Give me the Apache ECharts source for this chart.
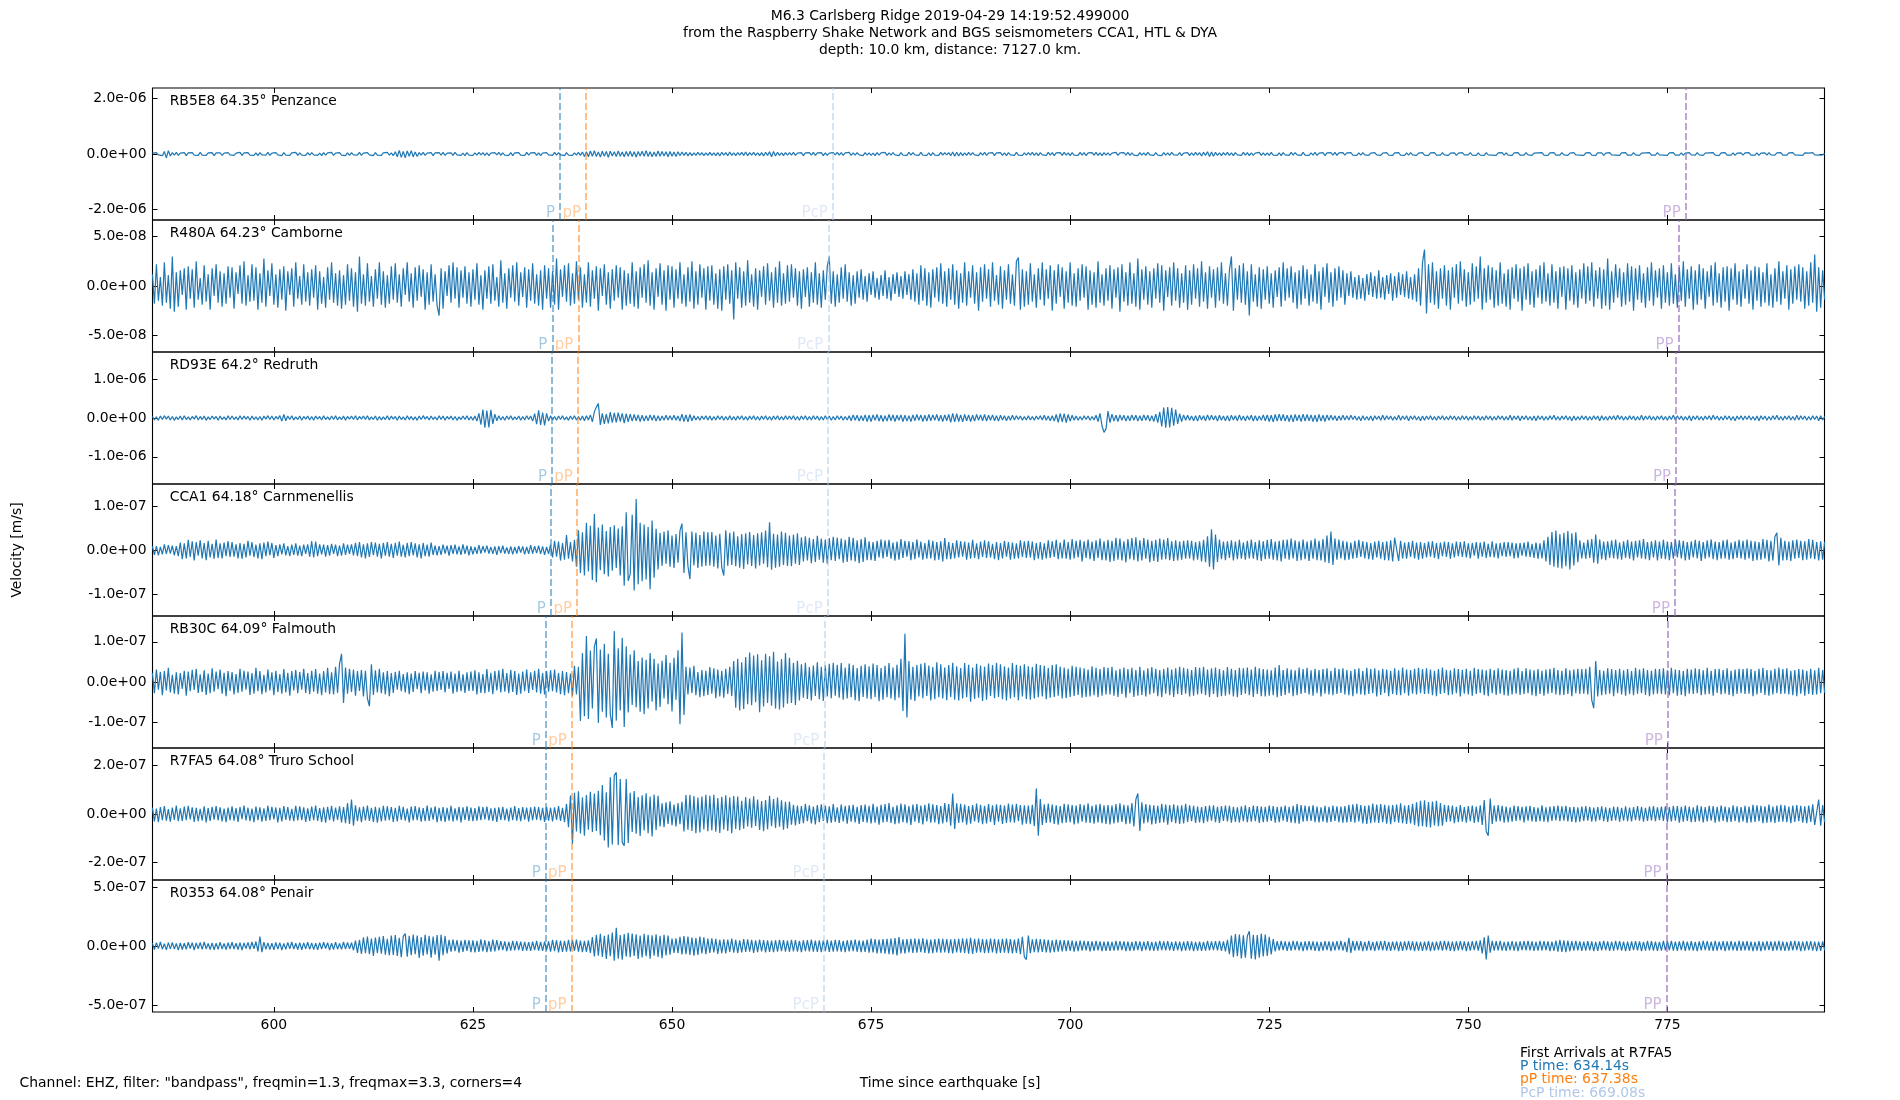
<!DOCTYPE html>
<html><head><meta charset="utf-8">
<script src="https://cdn.jsdelivr.net/npm/echarts@6/dist/echarts.min.js"></script>
<style>html,body{margin:0;padding:0;background:#fff}#c{width:1900px;height:1100px}</style>
</head><body><div id="c"></div>
<script>
// ---------------- data ----------------
const T0 = 584.75, DT = 0.25;          // first sample time and sample step [s]
const X_MIN = 584.76, X_MAX = 794.73;  // x range [s]
const xTicks = [600, 625, 650, 675, 700, 725, 750, 775];
const stations = ['RB5E8 64.35° Penzance', 'R480A 64.23° Camborne', 'RD93E 64.2° Redruth', 'CCA1 64.18° Carnmenellis', 'RB30C 64.09° Falmouth', 'R7FA5 64.08° Truro School', 'R0353 64.08° Penair'];
const units = [1e-8, 1e-9, 1e-8, 1e-9, 1e-9, 1e-9, 1e-9];   // unit of the trace values [m/s]
const yLimits = [2.37e-6, 6.7e-8, 1.7e-6, 1.5e-7, 1.64e-7, 2.73e-7, 5.6e-7];
const yTicks = [[-2e-6, 0, 2e-6], [-5e-8, 0, 5e-8], [-1e-6, 0, 1e-6], [-1e-7, 0, 1e-7], [-1e-7, 0, 1e-7], [-2e-7, 0, 2e-7], [-5e-7, 0, 5e-7]];
const pTimes   = [635.94, 634.97, 634.92, 634.77, 634.16, 634.14, 634.14];
const pPTimes  = [639.21, 638.24, 638.18, 638.08, 637.41, 637.38, 637.38];
const pcpTimes = [670.19, 669.64, 669.60, 669.55, 669.12, 669.08, 669.08];
const ppTimes  = [777.30, 776.40, 776.10, 775.95, 775.05, 774.90, 774.90];
const arrivalNames = ['P', 'pP', 'PcP', 'PP'];
const arrivalColors = ['rgba(31,119,180,0.5)', 'rgba(255,127,14,0.5)', 'rgba(174,199,232,0.5)', 'rgba(148,103,189,0.6)'];
const titleLines = ['M6.3 Carlsberg Ridge 2019-04-29 14:19:52.499000', 'from the Raspberry Shake Network and BGS seismometers CCA1, HTL & DYA', 'depth: 10.0 km, distance: 7127.0 km.'];
const firstArrivalLines = ['First Arrivals at R7FA5', 'P time: 634.14s', 'pP time: 637.38s', 'PcP time: 669.08s'];
const firstArrivalColors = ['#000000', '#1f77b4', '#ff7f0e', '#aec7e8'];

const traceRB5E8 = [
3,-4,5,-3,4,-6,9,-14,12,-7,5,-4,6,-5,3,-4,5,-6,4,-3,5,-4,3,-5,6,-4,3,-5,4,-3,5,-6,4,-3,4,-5,3,-4,5,-3,
4,-5,3,-4,6,-5,4,-3,5,-4,3,-5,4,-6,5,-3,4,-4,6,-5,3,-4,5,-3,4,-6,5,-4,3,-5,4,-3,6,-5,4,-4,3,-5,5,-4,
5,-3,4,-5,3,-6,5,-4,4,-3,6,-5,3,-4,5,-4,3,-6,4,-5,5,-3,4,-4,6,-5,3,-4,5,-3,4,-6,5,-4,3,-5,4,-3,6,-4,
4,-6,8,-10,13,-12,9,-14,11,-8,12,-10,7,-9,5,-4,6,-5,3,-4,5,-6,4,-3,5,-4,6,-5,3,-4,4,-5,6,-3,4,-5,3,-6,5,-4,
3,-5,4,-4,6,-3,5,-5,4,-6,3,-4,5,-3,6,-5,4,-4,3,-5,5,-6,4,-3,5,-4,3,-5,6,-4,4,-3,5,-5,4,-6,3,-4,5,-3,
4,-5,6,-4,5,-3,4,-6,5,-4,3,-5,4,-4,6,-5,7,-9,8,-10,11,-8,12,-9,7,-11,10,-8,9,-12,10,-7,8,-9,11,-8,7,-10,9,-8,
10,-9,8,-11,9,-7,10,-8,12,-9,8,-10,7,-9,11,-8,9,-7,8,-10,9,-8,7,-9,8,-6,7,-5,6,-7,5,-6,4,-5,6,-4,5,-6,4,-5,
6,-5,4,-6,5,-7,6,-4,5,-6,7,-5,4,-6,5,-4,6,-5,7,-6,5,-4,6,-5,4,-6,5,-7,6,-5,8,-10,9,-7,6,-5,4,-6,5,-4,
5,-4,6,-5,3,-4,5,-6,4,-3,5,-4,6,-5,4,-3,5,-6,4,-5,3,-4,5,-3,6,-4,5,-5,4,-3,6,-5,4,-4,5,-3,4,-6,5,-4,
4,-5,3,-6,5,-4,4,-3,6,-5,4,-4,5,-3,4,-6,5,-4,3,-5,6,-4,5,-3,4,-5,6,-4,3,-5,4,-6,5,-4,3,-5,6,-4,5,-3,
5,-6,7,-8,6,-7,5,-6,4,-5,6,-4,5,-3,4,-6,5,-4,6,-5,3,-4,5,-6,4,-3,5,-5,4,-6,5,-3,4,-5,6,-4,3,-5,4,-4,
5,-4,6,-5,4,-6,5,-3,4,-5,6,-4,5,-6,4,-3,5,-5,6,-4,4,-6,5,-4,3,-5,6,-4,5,-6,4,-3,5,-4,6,-5,4,-6,5,-4,
4,-5,3,-4,6,-5,4,-3,5,-4,6,-5,4,-4,3,-6,5,-4,4,-5,6,-3,4,-5,5,-4,3,-6,5,-4,4,-5,6,-3,4,-4,5,-6,3,-4,
5,-6,4,-5,6,-4,5,-7,6,-5,8,-9,7,-8,6,-5,4,-6,5,-4,6,-5,4,-6,5,-3,4,-5,6,-4,5,-6,4,-5,3,-4,6,-5,4,-5,
4,-5,6,-4,3,-5,4,-6,5,-3,4,-5,6,-4,5,-3,4,-5,6,-4,3,-5,4,-4,6,-5,3,-4,5,-6,4,-3,5,-4,6,-5,4,-3,5,-4,
4,-3,5,-4,3,-5,4,-4,5,-3,4,-5,3,-4,5,-3,4,-5,3,-4,5,-4,3,-5,4,-3,5,-4,3,-5,4,-4,5,-3,4,-5,3,-4,5,-4,
3,-5,4,-3,5,-4,3,-4,5,-3,4,-5,3,-4,4,-5,3,-4,5,-3,4,-3,5,-4,3,-5,4,-4,3,-5,5,-3,4,-4,3,-5,4,-3,5,-4,
4,-4,3,-5,4,-3,5,-4,3,-4,5,-3,4,-5,3,-4,4,-3,5,-4,3,-5,4,-3,5,-4,3,-4,5,-3,4,-5,3,-4,5,-3,4,-4,3,-5,
4,-3,5,-4,3,-5,4,-3,4,-5,3,-4,5,-3,4,-4,3,-5,4,-3,5,-4,3,-4,5,-3,4,-5,3,-4,4,-3,5,-4,3,-4,5,-3,4,-4,
3,-5,4,-3,5,-4,3,-4,4,-5,3,-4,5,-3,4,-4,5,-3,4,-5,3,-4,4,-3,5,-4,3,-5,4,-3,5,-4,3,-4,4,-5,3,-3,4,-4,
4,-3,5,-4,3,-4,4,-5,3,-3,4,-4,5,-3,3,-4,4,-3,5,-4,3,-4,4,-3,5,-3,4,-4,3,-5,4,-3,3,-4,5,-3,4,-4,3,-3,
2];

const traceR480A = [
12,-18,22,-15,9,-20,24,-17,11,-23,30,-26,14,-21,16,-9,18,-24,20,-13,17,-22,25,-14,8,-19,21,-16,12,-24,18,-10,22,-17,15,-21,13,-18,20,-12,
19,-23,14,-8,21,-18,25,-20,11,-16,22,-15,19,-24,13,-17,28,-21,16,-10,23,-19,12,-22,17,-14,20,-25,15,-9,18,-21,24,-13,10,-19,22,-16,14,-20,
17,-12,21,-24,15,-18,9,-22,19,-14,24,-17,13,-20,16,-23,11,-19,22,-15,18,-21,14,-26,30,-18,12,-20,23,-16,10,-21,17,-13,24,-19,15,-22,11,-18,
20,-14,23,-17,12,-21,18,-9,24,-16,13,-22,19,-15,21,-11,17,-24,14,-19,22,-16,12,-20,-30,18,-23,15,-10,21,-17,24,-13,19,-22,16,-12,20,-18,14,
-21,17,-14,23,-19,11,-24,16,-13,20,-18,22,-15,9,-21,26,-17,13,-23,18,-12,21,-16,24,-20,14,-11,19,-22,17,-15,23,-18,12,-20,16,-24,21,-13,18,
-22,15,-19,28,-24,17,-11,21,-16,23,-20,13,-18,25,-14,19,-22,12,-17,24,-21,16,-13,20,-25,18,-10,22,-19,14,-23,17,-15,21,-12,19,-24,16,-20,13,
-18,24,-21,15,-23,19,-12,22,-17,26,-20,14,-24,18,-11,23,-19,16,-25,21,-14,20,-22,17,-13,24,-18,12,-21,19,-16,25,-23,15,-19,22,-12,18,-24,20,
-15,21,-19,13,-23,17,-25,20,-14,22,-18,16,-34,24,-13,19,-22,15,-20,26,-17,12,-21,18,-24,16,-11,20,-19,23,-15,14,-22,19,-17,25,-20,13,-18,21,
-16,22,-12,18,-20,15,-23,17,-11,19,-21,14,-17,24,-19,13,-22,16,-14,20,30,-18,15,-21,12,-17,19,-13,22,-16,14,-20,11,-18,15,-12,17,-14,10,-16,
13,-9,15,-12,8,-14,11,-10,16,-13,9,-15,12,-8,14,-11,10,-13,15,-9,12,-14,17,-16,13,-19,21,-15,18,-20,14,-22,17,-12,19,-16,23,-18,15,-21,
18,-14,22,-19,16,-23,13,-17,24,-20,15,-12,21,-18,14,-25,19,-16,22,-13,17,-21,24,-15,11,-19,20,-23,16,-14,22,-18,12,-20,25,29,-24,17,-21,15,
-19,23,-16,12,-22,18,-14,24,-20,17,-13,21,-25,16,-18,22,-11,19,-23,15,-17,24,-20,13,-21,18,-15,22,-12,20,-24,16,-19,14,-22,25,-17,12,-20,18,
-15,21,-23,17,-12,19,-26,22,-16,14,-20,24,-18,13,-21,28,-24,17,-14,20,-19,15,-22,18,-13,23,-17,21,-25,16,-11,19,-20,24,-15,18,-22,13,-17,21,
-24,16,-19,22,-13,18,-21,25,-16,14,-23,20,-12,17,-22,19,-15,24,-18,13,-20,16,30,-25,18,-14,21,-17,23,-19,15,-30,22,-16,12,-21,19,-23,17,-14,
20,-18,13,-22,16,-11,19,-21,24,-15,18,-12,20,-17,14,-23,16,-19,21,-13,17,-20,12,-16,22,-18,15,-24,19,-11,23,-17,14,-21,18,-15,20,-12,16,-19,
13,-10,15,-12,9,-14,11,-13,8,-15,12,-9,14,-11,10,-13,16,-12,9,-14,11,-8,13,-15,10,-12,14,-9,12,-11,15,-13,9,-14,12,-16,18,-20,24,37,
-28,22,-17,24,-19,15,-23,18,-13,21,-20,16,-24,19,-12,22,-18,25,-15,17,-21,14,-19,23,-16,20,-13,30,-24,18,-17,21,-14,19,-22,16,-20,24,-18,13,
-21,17,-24,19,-13,22,-16,18,-25,20,-14,23,-19,15,-22,17,-12,21,-18,24,-16,13,-20,22,-17,15,-23,19,-11,20,-24,18,-15,21,-19,14,-22,17,-13,23,
-18,20,-15,24,-21,16,-13,19,-23,17,-20,28,-24,15,-17,22,-12,18,-21,14,-19,23,-16,20,-25,18,-14,21,-17,13,-22,19,-15,24,-20,16,-12,18,-23,21,
-17,14,-20,23,-18,12,-22,19,-15,25,-21,17,-13,20,-24,16,-19,22,-14,18,-23,15,-11,21,-20,24,-17,13,-22,19,-16,20,-25,18,-14,23,-19,15,-21,17,
-13,22,-18,16,-24,20,-15,19,-21,14,-17,23,-20,12,-22,18,-16,25,-19,15,-13,21,-24,17,-18,20,-14,22,-16,19,-23,15,-20,24,-17,32,-26,19,-22,16,
-14];

const traceRD93E = [
4,-5,3,-6,5,-4,6,-3,5,-5,4,-6,3,-4,5,-5,6,-4,3,-5,4,-3,6,-5,4,-4,5,-6,3,-4,5,-3,4,-6,5,-4,3,-5,6,-4,
5,-4,3,-5,6,-4,5,-3,4,-6,5,-4,3,-5,4,-6,5,-3,6,-4,5,-5,4,-3,6,-8,9,-7,5,-4,6,-5,3,-4,5,-6,4,-3,5,-5,
4,-6,5,-3,4,-5,6,-4,3,-5,5,-4,6,-5,3,-4,5,-6,4,-3,5,-4,6,-5,4,-3,5,-4,6,-5,3,-4,5,-6,4,-5,3,-4,6,-5,
5,-3,4,-6,5,-4,3,-5,6,-4,4,-5,3,-6,5,-4,6,-3,4,-5,5,-4,3,-5,6,-4,5,-6,4,-3,5,-5,4,-6,3,-4,5,-4,6,-5,
4,-6,5,-8,12,-17,22,-25,19,-24,21,-15,10,-7,6,-5,4,-6,5,-4,6,-5,3,-4,5,-6,4,-5,6,-4,5,-8,11,-16,20,-18,14,-19,12,-8,
6,-5,4,-6,5,-4,6,-5,3,-6,5,-4,6,-5,4,-6,5,-7,6,-5,8,-10,16,28,37,-18,12,-15,10,-14,15,-12,13,-11,14,-9,12,-13,11,-10,
10,-8,9,-7,8,-9,7,-8,6,-7,8,-6,7,-8,6,-7,5,-6,7,-5,6,-5,7,-6,5,-8,10,-9,8,-10,9,-7,6,-5,4,-6,5,-4,6,-5,
5,-6,4,-5,6,-4,5,-6,4,-5,6,-5,4,-6,5,-4,6,-5,4,-6,5,-4,6,-5,4,-6,5,-4,6,-5,4,-6,5,-4,6,-5,4,-5,6,-4,
5,-4,6,-5,4,-6,5,-4,6,-5,4,-5,6,-4,5,-6,4,-5,6,-4,5,-6,4,-5,6,-4,5,-6,4,-5,6,-7,8,-6,7,-8,6,-7,8,-9,
7,-9,8,-6,9,-8,7,-9,6,-8,9,-7,8,-9,7,-6,8,-9,7,-8,6,-9,8,-7,9,-6,8,-9,7,-8,9,-7,8,-6,9,-8,7,-9,8,-7,
9,-11,12,-10,11,-9,8,-10,9,-7,8,-9,7,-8,9,-6,8,-7,9,-8,7,-6,8,-7,6,-8,7,-5,6,-7,5,-6,7,-5,6,-4,5,-6,4,-5,
6,-5,4,-6,5,-4,6,-5,7,-6,5,-7,6,-8,9,-11,12,-10,11,-12,9,-8,7,-6,5,-6,4,-5,6,-4,5,-6,4,-5,7,-9,12,-20,-37,-28,
18,-12,10,-8,7,-9,8,-6,7,-8,6,-7,8,-6,7,-8,6,-7,8,-6,7,-8,6,-9,10,-12,16,-22,27,-25,28,-24,26,-20,22,-15,11,-9,8,-6,
7,-6,5,-7,6,-8,7,-5,6,-7,8,-6,7,-5,6,-8,7,-6,5,-7,6,-8,7,-5,6,-7,8,-6,5,-7,6,-5,7,-8,6,-7,5,-6,8,-7,
8,-9,7,-10,9,-8,10,-7,9,-8,7,-9,8,-10,9,-7,8,-9,10,-8,9,-7,8,-9,7,-10,9,-8,7,-9,8,-6,7,-5,6,-7,5,-6,7,-5,
6,-5,7,-4,5,-6,4,-7,6,-5,4,-6,5,-7,6,-4,5,-6,7,-5,6,-4,5,-6,4,-5,7,-6,5,-4,6,-7,5,-4,6,-5,4,-7,5,-6,
5,-4,6,-5,4,-6,5,-4,6,-5,4,-5,6,-4,5,-6,4,-5,6,-4,5,-6,4,-5,6,-4,5,-6,4,-5,6,-4,5,-6,4,-5,6,-4,5,-6,
4,-5,7,-6,5,-4,6,-7,5,-4,6,-5,4,-6,5,-7,6,-4,5,-6,4,-5,6,-4,7,-5,4,-6,5,-4,6,-5,4,-7,5,-6,4,-5,6,-4,
5,-6,4,-5,6,-4,5,-7,6,-5,4,-6,5,-4,6,-5,7,-4,5,-6,4,-5,6,-4,5,-6,4,-5,7,-6,5,-4,6,-5,4,-6,5,-4,6,-5,
4,-6,5,-4,7,-5,6,-4,5,-6,4,-5,6,-7,5,-4,6,-5,4,-6,5,-4,6,-5,7,-4,5,-6,4,-5,6,-4,5,-6,4,-7,5,-4,6,-5,
5,-4,6,-5,4,-6,5,-7,6,-4,5,-6,4,-5,6,-4,7,-5,4,-6,5,-4,6,-5,4,-6,7,-5,6,-4,5,-6,4,-5,6,-4,5,-7,6,-5,
4];

const traceCCA1 = [
8,-11,9,-12,7,-10,13,-9,11,-8,10,-12,9,-14,17,-21,15,-19,23,-16,20,-24,18,-13,22,-19,16,-23,21,-17,14,-20,24,-18,15,-19,17,-14,20,-16,
18,-15,13,-19,16,-20,14,-17,21,-13,18,-16,12,-19,15,-21,17,-14,19,-12,16,-18,11,-14,13,-10,15,-12,9,-14,12,-11,15,-13,10,-14,12,-9,13,-15,
20,-17,19,-14,13,-10,12,-15,11,-13,14,-9,12,-14,10,-13,15,-11,12,-9,13,-12,16,-14,18,-17,13,-19,15,-16,18,-12,17,-15,14,-19,16,-13,18,-15,
14,-18,16,-13,19,-15,12,-17,16,-14,18,-12,15,-17,13,-19,16,-14,12,-15,17,-11,10,-12,9,-11,12,-8,10,-13,11,-9,12,-10,8,-11,13,-9,10,-12,
8,-10,7,-9,11,-8,9,-6,10,-8,7,-9,8,-11,9,-7,10,-8,6,-9,8,-10,7,-8,9,-6,8,-10,7,-9,11,-8,9,-7,10,-9,8,-11,7,-9,
12,-17,21,-15,19,-24,16,-22,34,-20,18,-26,23,-38,45,-52,40,-58,62,-49,55,-68,82,-73,51,-46,58,-55,43,-60,52,-47,56,-41,49,-58,54,-81,86,-70,
-55,80,-92,116,-78,62,-71,58,-67,52,-89,67,-63,48,-44,39,-36,42,-31,45,-38,33,-41,36,-29,44,60,-52,40,-37,-66,42,-35,39,-41,34,-38,42,-36,40,
-35,41,-38,33,-42,37,-40,-58,45,-36,39,-34,42,-37,31,-40,36,-43,38,-33,41,-36,34,-42,38,-35,40,-31,44,-39,63,-45,37,-40,35,-38,42,-34,39,-36,
33,-37,35,-31,38,-34,29,-26,31,-24,28,-30,25,-27,32,-22,26,-29,24,-31,27,-23,30,-25,28,-21,26,-29,23,-27,30,-24,28,-26,22,-30,25,-27,29,-23,
20,-23,18,-25,21,-17,24,-19,22,-16,23,-20,17,-24,19,-22,25,-18,21,-15,20,-23,18,-21,24,-17,19,-22,16,-20,23,-19,21,-24,18,-22,20,-26,27,-21,
18,-21,16,-19,22,-17,20,-15,19,-22,17,-20,23,-18,15,-21,19,-16,22,-18,20,-17,14,-21,18,-23,16,-19,21,-15,18,-22,17,-20,15,-19,22,-16,20,-18,
21,-17,19,-23,16,-20,18,-22,15,-19,22,-18,20,-16,23,-21,17,-19,24,-20,18,-22,25,-19,21,-17,23,-26,20,-18,24,-21,19,-25,22,-18,26,-23,20,-24,
23,-27,21,-25,28,-22,26,-24,20,-28,25,-21,27,-23,29,-26,22,-24,27,-20,24,-28,21,-25,23,-27,26,-22,24,-21,27,-23,20,-25,22,-24,19,-22,21,-20,
22,-19,21,-24,18,-22,20,-26,23,-28,31,-38,47,-44,35,-27,24,-21,19,-23,20,-18,22,-24,19,-21,23,-20,17,-22,21,-19,24,-20,18,-23,22,-25,20,-21,
23,-20,25,-22,19,-24,21,-26,23,-20,24,-22,26,-19,22,-25,20,-23,24,-21,19,-25,22,-20,26,-23,21,-24,25,-28,33,-30,42,-34,26,-22,24,-19,21,-23,
19,-22,17,-20,21,-18,23,-16,20,-19,18,-21,16,-22,19,-17,21,-20,18,-23,20,-24,22,-26,28,30,-25,21,-19,17,-20,18,-16,21,-19,17,-22,18,-20,16,
-17,19,-15,20,-18,16,-21,17,-14,19,-16,18,-20,15,-17,19,-14,18,-16,20,-17,15,-19,16,-13,18,-20,17,-15,19,-18,14,-16,20,-17,15,-19,16,-14,18,
-16,18,-14,17,-19,15,-18,16,-13,17,-15,19,-16,14,-18,17,-20,15,-19,22,-26,30,-34,41,-38,44,-40,36,-42,39,-37,43,-44,38,-35,40,-28,22,-19,17,
-20,23,-18,25,-29,35,-31,24,-21,19,-23,20,-18,22,-19,24,-21,17,-22,20,-18,23,-20,19,-24,21,-17,22,-19,25,-21,18,-23,20,-17,22,-24,19,-20,23,
-21,19,-23,18,-20,24,-17,22,-19,21,-24,18,-22,20,-17,23,-19,21,-25,18,-20,22,-17,24,-21,19,-23,18,-20,22,-19,24,-22,17,-21,20,-18,23,-19,21,
-22,24,-19,21,-25,20,-23,18,-22,25,-20,23,-26,21,-24,30,39,-35,28,-24,21,-23,19,-25,22,-20,24,-18,21,-23,20,-22,25,-19,23,-21,18,-24,20,-22,
19];

const traceRB30C = [
22,-28,31,-19,25,-33,27,-21,35,-26,18,-29,24,-31,22,-17,28,-34,26,-23,30,-20,33,-27,19,-25,29,-32,21,-28,34,-24,26,-18,31,-29,23,-35,27,-22,
25,-31,20,-27,33,-24,28,-19,26,-32,22,-29,35,-23,27,-30,18,-26,31,-21,24,-33,28,-25,20,-29,32,-26,23,-34,27,-21,30,-28,25,-19,33,-27,22,-30,
28,-24,32,-29,21,-33,27,-26,35,-30,24,-31,38,-27,45,70,-52,36,-29,33,-25,31,-34,27,-22,30,-36,28,-41,-60,44,-32,29,-26,33,-28,24,-31,27,-35,
22,-27,25,-19,28,-23,20,-26,24,-30,21,-25,27,-18,23,-28,26,-21,24,-29,19,-24,28,-22,25,-20,27,-26,23,-17,26,-29,21,-25,28,-23,19,-27,24,-22,
26,-22,29,-31,24,-27,20,-28,32,-25,23,-30,27,-21,29,-26,33,-24,22,-28,30,-25,27,-32,21,-29,26,-23,31,-27,24,-20,28,-26,33,-29,22,-31,27,-24,
29,-23,31,-26,22,-30,27,-33,25,-28,21,-34,40,-31,38,-97,72,-85,114,-92,78,-66,88,108,-102,81,-74,95,-88,70,-79,-114,127,-96,84,-71,110,-112,89,-76,
68,-57,79,-63,52,-74,61,-80,55,-66,72,-49,58,-71,46,-62,53,-41,67,-55,48,-73,60,-44,79,-105,123,-82,38,-31,36,-27,40,-33,25,-38,30,-35,28,-32,
37,-29,34,-40,31,-36,28,-39,33,-30,38,-35,52,-64,58,-71,49,-67,62,-55,73,-58,66,-50,69,-75,54,-61,70,-52,64,-59,75,-66,51,-68,57,-63,72,-54,
60,-52,48,-57,53,-46,44,-39,48,-42,37,-46,41,-35,49,-43,38,-47,42,-36,45,-40,48,-34,43,-39,47,-44,36,-41,46,-38,42,-45,35,-48,40,-37,44,-41,
39,-43,46,-37,42,-48,35,-44,40,-38,47,-41,36,-45,43,-39,58,-72,120,-88,52,-44,38,-47,42,-36,45,-40,48,-35,41,-46,37,-43,49,-38,44,-41,36,-45,
42,-37,48,-44,39,-46,35,-41,47,-38,43,-49,36,-42,45,-39,41,-47,38,-44,46,-35,42,-40,48,-37,44,-43,39,-46,36,-41,47,-38,43,-45,40,-36,44,-42,
39,-44,37,-41,45,-38,42,-36,40,-43,35,-39,42,-37,44,-34,38,-41,36,-40,33,-37,40,-35,38,-32,36,-39,34,-37,31,-36,39,-33,35,-38,32,-34,37,-31,
35,-31,38,-34,29,-37,33,-30,36,-39,32,-28,35,-37,30,-34,38,-32,29,-36,34,-31,37,-28,33,-35,30,-38,32,-29,36,-33,31,-37,34,-30,38,-32,35,-29,
33,-36,30,-34,37,-31,35,-29,38,-33,31,-37,34,-30,36,-38,32,-35,29,-34,37,-31,33,-36,30,-38,35,-32,34,-29,36,-33,31,-37,38,-30,34,-35,32,-36,
31,-34,29,-33,36,-38,42,-35,30,-32,34,-28,31,-35,29,-33,36,-30,32,-27,35,-31,29,-34,33,-28,30,-36,32,-29,34,-31,28,-33,35,-30,32,-27,34,-31,
30,-33,28,-35,32,-29,34,-31,27,-33,35,-30,32,-28,34,-36,29,-32,33,-27,31,-35,28,-30,34,-32,29,-33,36,-28,31,-34,30,-29,33,-31,35,-28,32,-30,
34,-29,31,-33,28,-35,32,-30,36,-27,30,-33,29,-31,34,-28,32,-36,30,-29,33,-31,28,-34,35,-30,32,-27,31,-33,29,-35,33,-28,30,-32,34,-29,31,-33,
30,-34,28,-31,33,-29,35,-32,27,-30,34,-28,31,-33,29,-35,32,-30,28,-34,31,-29,33,-27,35,-31,30,-33,28,-32,34,-30,29,-35,31,-28,33,-30,32,-29,
33,-31,38,-45,-65,52,-36,30,-33,28,-31,34,-29,32,-35,30,-28,33,-31,29,-34,32,-30,27,-33,35,-29,31,-28,34,-32,30,-35,28,-31,33,-29,32,-30,34,
-31,29,-33,35,-28,31,-34,30,-32,27,-35,33,-29,31,-30,34,-28,32,-33,29,-31,35,-30,28,-34,32,-27,33,-31,30,-29,34,-32,28,-35,31,-30,33,-28,32,
-30,34,-29,32,-35,28,-31,33,-27,35,-32,30,-34,29,-31,33,-28,36,-30,32,-29,34,-31,28,-33,30,-35,32,-29,31,-34,28,-30,33,-32,29,-31,35,-28,30,
-27];

const traceR7FA5 = [
26,-31,22,-34,29,-25,33,-28,20,-32,27,-24,35,-30,23,-29,31,-26,34,-22,28,-33,25,-30,21,-27,32,-35,24,-29,30,-23,33,-26,28,-31,22,-34,27,-25,
32,-28,24,-33,29,-21,35,-27,26,-30,22,-34,31,-25,28,-32,23,-29,34,-26,30,-22,27,-35,25,-31,33,-24,29,-28,21,-30,34,-27,32,-25,28,-33,23,-29,
31,-26,35,-29,24,-33,28,-36,30,-25,34,-31,27,-24,32,-35,29,-38,45,-41,60,-48,36,-30,28,-34,31,-27,35,-29,25,-33,30,-36,27,-31,34,-28,32,-26,
29,-33,26,-31,34,-24,30,-28,22,-35,31,-27,33,-25,28,-32,24,-30,35,-29,27,-23,32,-34,26,-30,29,-33,25,-28,34,-31,23,-27,30,-35,28,-24,32,-29,
27,-30,24,-28,32,-25,29,-22,31,-27,23,-29,26,-33,28,-24,30,-26,22,-31,27,-25,33,-28,24,-30,29,-23,26,-32,28,-26,31,-24,29,-27,25,-33,30,-28,
26,-31,28,-24,33,-29,25,-34,42,-55,76,-124,88,-72,94,-81,69,-90,78,-65,92,-74,85,-70,96,-88,120,-110,90,-138,152,-126,160,172,-128,145,-118,-131,145,-120,
88,-74,95,-82,70,-91,77,-68,86,-79,72,-93,81,-66,75,-52,44,-55,48,-41,53,-46,39,-51,45,-42,50,-72,78,-65,80,-70,74,-79,68,-76,72,-64,79,-71,
75,-68,80,-73,66,-78,71,-64,77,-70,69,-79,74,-62,72,-67,55,-61,70,-52,64,-57,73,-49,60,-66,54,-71,58,-63,75,-51,62,-58,68,-53,57,-65,50,-60,
52,-44,38,-47,35,-41,33,-38,42,-30,36,-39,31,-43,37,-34,40,-29,35,-38,32,-36,41,-33,28,-37,39,-31,34,-40,36,-32,38,-35,30,-41,37,-33,39,-36,
34,-39,42,-36,31,-44,38,-35,41,-33,45,-37,30,-42,36,-39,43,-34,40,-38,33,-45,39,-32,41,-37,35,-43,38,-31,44,-36,40,-35,37,-42,33,-39,45,-34,
41,-48,85,-62,44,-37,42,-35,39,-44,33,-40,37,-31,43,-36,38,-42,34,-39,41,-33,36,-45,40,-32,38,-41,35,-37,43,-34,39,-36,42,-30,37,-44,36,-40,
35,-42,38,-50,105,-90,62,-45,40,-37,43,-35,39,-41,36,-44,33,-38,42,-36,40,-34,37,-43,35,-39,41,-32,38,-36,44,-37,34,-40,39,-35,42,-38,36,-41,
37,-43,35,-39,41,-36,44,-33,38,-42,36,-40,45,-52,60,85,-70,48,-39,41,-35,38,-43,36,-40,34,-37,42,-35,39,-44,37,-33,40,-38,35,-41,36,-39,42,
-33,36,-30,34,-37,31,-35,29,-38,33,-32,35,-28,36,-34,30,-37,33,-29,35,-31,34,-36,30,-33,28,-35,32,-30,36,-34,29,-32,35,-30,33,-37,31,-34,30,
-32,35,-29,33,-36,30,-34,31,-28,35,-33,30,-36,34,-38,41,-40,37,-32,35,-30,33,-29,36,-34,31,-35,28,-32,34,-36,30,-33,35,-29,32,-34,31,-36,33,
-35,38,-33,40,-36,42,-31,37,-39,34,-41,36,-38,43,-35,39,-37,41,-34,38,-40,35,-42,37,-33,39,-36,44,-38,35,-41,37,-39,42,-45,48,-52,55,-50,57,
-54,49,-56,52,-47,55,-50,45,-48,38,-33,36,-31,35,-38,30,-34,37,-32,29,-36,33,-30,35,-37,31,-34,36,-45,58,-72,-90,64,-41,35,-32,37,-30,34,-36,
31,-34,28,-32,35,-29,33,-27,30,-35,32,-28,34,-31,29,-33,27,-30,36,-32,28,-34,31,-29,33,-27,35,-30,32,-28,34,-31,29,-33,30,-35,28,-32,31,-29,
33,-28,30,-32,27,-31,29,-26,32,-30,28,-33,26,-29,31,-27,30,-32,25,-28,32,-30,27,-31,29,-26,33,-28,30,-32,26,-29,31,-27,33,-30,28,-25,31,-29,
32,-35,29,-31,34,-28,33,-36,30,-32,35,-29,31,-34,28,-33,36,-30,32,-35,29,-31,34,-28,33,-36,30,-32,35,-29,31,-34,28,-33,36,-30,32,-35,29,-31,
34,-37,31,-35,38,-33,36,-30,34,-38,32,-36,39,-34,31,-37,35,-33,38,-32,36,-34,31,-38,35,-33,37,-30,34,-36,32,-38,35,-33,40,-45,-40,60,-48,37,
-33];

const traceR0353 = [
25,-31,28,-22,34,-27,20,-33,29,-24,31,-26,22,-35,27,-30,24,-28,33,-21,29,-34,26,-23,31,-28,35,-25,22,-30,27,-32,24,-29,33,-26,21,-31,28,-25,
32,-27,24,-30,29,-35,26,-22,31,-28,34,-25,38,-45,80,-52,33,-29,27,-31,24,-33,30,-26,28,-34,22,-29,31,-25,35,-27,23,-30,28,-32,26,-24,33,-29,
27,-31,24,-33,29,-26,32,-22,28,-35,25,-30,33,-27,21,-29,34,-26,31,-24,28,-36,45,-58,52,-67,74,-61,80,-70,63,-85,72,-58,78,-66,84,-73,60,-79,
88,-76,92,-84,70,-95,81,105,-90,86,-78,97,-69,88,-101,75,-83,94,-72,87,-99,80,-74,92,-125,96,-78,85,-64,52,-48,55,-44,51,-57,46,-50,53,-42,49,
-52,47,-55,43,-50,56,-45,49,-53,41,-48,54,-46,51,-38,42,-36,40,-44,35,-39,43,-37,41,-34,38,-42,36,-40,33,-41,37,-35,43,-39,34,-42,38,-36,40,
-47,52,-44,49,-55,46,-51,43,-48,53,-45,50,-42,54,-49,46,-52,44,-50,47,-58,75,-88,96,-82,104,-93,87,-110,98,-86,115,-125,155,-108,92,-117,101,-89,112,
-95,106,-84,99,-110,88,-97,103,-86,94,-108,91,-83,100,-92,86,-104,95,-80,89,-73,62,-58,66,-61,78,-72,84,-69,80,-76,71,-82,68,-75,79,-64,73,-70,62,
-58,65,-54,61,-67,52,-60,57,-63,55,-50,62,-57,53,-60,48,-55,59,-51,56,-47,53,-58,49,-52,55,-46,51,-54,48,-50,45,-53,49,-47,52,-44,50,-48,46,
-49,53,-45,51,-47,44,-52,48,-43,50,-46,54,-48,45,-51,47,-53,49,-44,52,-50,46,-48,53,-45,50,-47,44,-52,49,-46,51,-43,55,-49,47,-52,45,-50,54,
-57,62,-54,59,-63,55,-60,58,-66,61,-70,64,-72,68,-80,75,-62,57,-64,59,-55,61,-58,63,-56,60,-53,65,-59,57,-62,54,-60,58,-55,63,-57,61,-54,59,
-60,56,-63,58,-55,61,-57,64,-59,62,-66,70,-68,60,-57,63,-54,59,-61,56,-58,62,-55,60,-64,57,-59,61,-56,63,-60,58,-62,55,-59,64,-70,78,-92,-115,
88,-62,57,-53,60,-55,58,-51,56,-54,52,-57,49,-53,55,-48,51,-46,50,-44,47,-42,45,-48,41,-44,46,-40,43,-38,42,-45,39,-41,44,-37,40,-43,38,-41,
39,-42,36,-40,43,-38,41,-35,39,-44,37,-41,34,-39,42,-36,40,-43,38,-35,41,-39,36,-42,37,-40,43,-34,39,-37,42,-38,35,-41,40,-36,38,-43,37,-39,
41,-37,39,-43,36,-40,38,-42,35,-39,43,-37,40,-36,42,-38,44,-41,39,-45,52,-70,88,-95,102,-86,98,-105,90,-100,84,125,-108,96,-115,92,-99,106,-88,97,
-85,78,-72,58,-45,41,-38,43,-36,40,-42,37,-39,44,-35,41,-38,36,-43,39,-37,42,-34,40,-41,38,-44,35,-39,42,-36,40,-43,37,-38,41,-35,43,-40,36,
-52,70,-58,44,-39,42,-37,41,-44,36,-40,43,-38,35,-42,39,-36,41,-37,44,-39,36,-42,38,-35,40,-43,37,-41,39,-36,42,-38,40,-44,37,-39,35,-41,38,
-37,41,-43,36,-40,38,-35,42,-39,44,-36,40,-41,37,-43,39,-38,42,-35,40,-44,37,-39,41,-36,43,-40,48,-62,74,-115,88,-56,43,-39,41,-37,44,-40,36,
-41,38,-36,42,-39,37,-43,40,-35,41,-38,44,-37,39,-42,36,-40,43,-38,41,-36,39,-44,37,-41,45,-48,52,-50,47,-53,46,-44,41,-39,43,-37,40,-42,38,
-39,42,-37,40,-44,36,-41,39,-38,43,-35,40,-42,37,-39,44,-36,41,-40,38,-43,37,-41,39,-36,42,-38,40,-44,35,-39,43,-37,41,-40,38,-42,36,-39,44,
-38,41,-36,43,-40,37,-42,39,-35,44,-41,38,-37,42,-39,36,-44,40,-38,43,-36,41,-39,37,-42,44,-40,38,-35,41,-43,39,-37,42,-38,36,-41,43,-39,40,
-37,42,-40,38,-43,36,-39,41,-44,37,-38,42,-36,40,-41,39,-37,43,-40,38,-42,36,-39,41,-38,44,-35,40,-43,37,-39,42,-36,41,-40,38,-44,37,-41,39,
-36];

const traces = [traceRB5E8, traceR480A, traceRD93E, traceCCA1, traceRB30C, traceR7FA5, traceR0353];

// ---------------- layout ----------------
const FONT = 'DejaVu Sans';
const PANEL_TOP = 88, PANEL_H = 132, LEFT = 152.5, RIGHT = 75.5;
const CENTER_X = 950;

function sci(v) {
  let s = Number(v).toExponential(1);
  let parts = s.split('e');
  let e = parts[1];
  let sign = e[0] === '-' ? '-' : '+';
  let d = e.replace(/[+-]/, '');
  if (d.length < 2) d = '0' + d;
  return parts[0] + 'e' + sign + d;
}

const chart = echarts.init(document.getElementById('c'), null, {renderer: 'canvas', width: 1900, height: 1100});

const grids = [], xAxes = [], yAxes = [], series = [], graphics = [];
const tickStyle = {show: true, inside: true, length: 5, lineStyle: {color: '#000', width: 1}};
const noLine = {show: false, onZero: false};

for (let i = 0; i < traces.length; i++) {
  const top = PANEL_TOP + PANEL_H * i;
  grids.push({left: LEFT, right: RIGHT, top: top, height: PANEL_H, show: true, borderColor: '#000', borderWidth: 1.1, backgroundColor: 'rgba(0,0,0,0)'});
  const yl = yLimits[i];
  // bottom & top x axes
  xAxes.push({type: 'value', gridIndex: i, min: X_MIN, max: X_MAX, position: 'bottom',
    axisLine: noLine, splitLine: {show: false},
    axisTick: Object.assign({customValues: xTicks}, tickStyle),
    axisLabel: {show: i === traces.length - 1, customValues: xTicks, margin: 6, color: '#000', fontSize: 13.9, fontFamily: FONT}});
  xAxes.push({type: 'value', gridIndex: i, min: X_MIN, max: X_MAX, position: 'top',
    axisLine: noLine, splitLine: {show: false},
    axisTick: Object.assign({customValues: xTicks}, tickStyle),
    axisLabel: {show: false}});
  // left & right y axes
  yAxes.push({type: 'value', gridIndex: i, min: -yl, max: yl, position: 'left',
    axisLine: noLine, splitLine: {show: false},
    axisTick: Object.assign({customValues: yTicks[i]}, tickStyle),
    axisLabel: {customValues: yTicks[i], formatter: sci, margin: 6, color: '#000', fontSize: 13.9, fontFamily: FONT}});
  yAxes.push({type: 'value', gridIndex: i, min: -yl, max: yl, position: 'right',
    axisLine: noLine, splitLine: {show: false},
    axisTick: Object.assign({customValues: yTicks[i]}, tickStyle),
    axisLabel: {show: false}});

  const pts = traces[i].map((v, k) => [T0 + k * DT, v * units[i]]);
  const times = [pTimes[i], pPTimes[i], pcpTimes[i], ppTimes[i]];
  series.push({
    type: 'line', xAxisIndex: 2 * i, yAxisIndex: 2 * i, data: pts,
    showSymbol: false, symbol: 'none', animation: false, z: 2,
    lineStyle: {color: '#1f77b4', width: 1.2},
    markLine: {
      silent: true, animation: false, symbol: ['none', 'none'], label: {show: false},
      data: times.map((t, j) => ({xAxis: t, lineStyle: {color: arrivalColors[j], type: [7, 3], width: 2}}))
    }
  });
  series.push({
    type: 'scatter', xAxisIndex: 2 * i, yAxisIndex: 2 * i, symbolSize: 0, clip: false, animation: false, silent: true, z: 3,
    data: times.map((t, j) => ({
      value: [t, -yl],
      label: {show: true, formatter: arrivalNames[j], color: arrivalColors[j]}
    })),
    label: {show: true, position: 'left', distance: 5, offset: [0, -7], fontSize: 15, fontFamily: FONT}
  });
  graphics.push({type: 'text', x: 169.7, y: top + 13, style: {text: stations[i], fill: '#000', font: '13.9px "DejaVu Sans"', textAlign: 'left', textVerticalAlign: 'middle', align: 'left', verticalAlign: 'middle'}});
}

titleLines.forEach((t, j) => {
  graphics.push({type: 'text', x: CENTER_X, y: 16.5 + 16.8 * j, style: {text: t, fill: '#000', font: '13.9px "DejaVu Sans"', textAlign: 'center', textVerticalAlign: 'middle', align: 'center', verticalAlign: 'middle'}});
});
graphics.push({type: 'text', x: 17, y: 550, rotation: Math.PI / 2, style: {text: 'Velocity [m/s]', fill: '#000', font: '13.9px "DejaVu Sans"', textAlign: 'center', textVerticalAlign: 'middle', align: 'center', verticalAlign: 'middle'}});
graphics.push({type: 'text', x: 19.6, y: 1083.5, style: {text: 'Channel: EHZ, filter: "bandpass", freqmin=1.3, freqmax=3.3, corners=4', fill: '#000', font: '13.9px "DejaVu Sans"', textAlign: 'left', textVerticalAlign: 'middle', align: 'left', verticalAlign: 'middle'}});
graphics.push({type: 'text', x: CENTER_X, y: 1083.5, style: {text: 'Time since earthquake [s]', fill: '#000', font: '13.9px "DejaVu Sans"', textAlign: 'center', textVerticalAlign: 'middle', align: 'center', verticalAlign: 'middle'}});
firstArrivalLines.forEach((t, j) => {
  graphics.push({type: 'text', x: 1520, y: 1053 + 13.3 * j, style: {text: t, fill: firstArrivalColors[j], font: '13.9px "DejaVu Sans"', textAlign: 'left', textVerticalAlign: 'middle', align: 'left', verticalAlign: 'middle'}});
});

chart.setOption({
  animation: false,
  backgroundColor: '#ffffff',
  textStyle: {fontFamily: FONT},
  grid: grids, xAxis: xAxes, yAxis: yAxes, series: series, graphic: graphics
});
</script>
</body></html>
